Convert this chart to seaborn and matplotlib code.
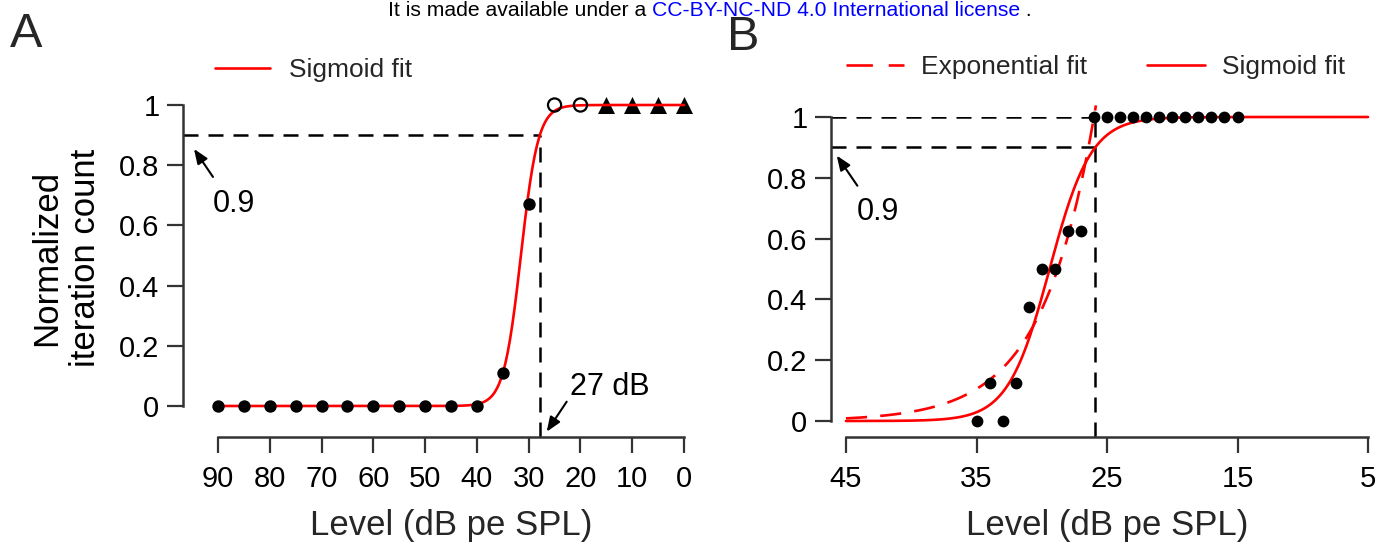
import numpy as np
import pandas as pd
import matplotlib
matplotlib.use("Agg")
import matplotlib.pyplot as plt
from matplotlib.lines import Line2D
import seaborn as sns

sns.set_style("ticks")
plt.rcParams['font.family'] = ['Liberation Sans', 'DejaVu Sans']

# ---------------- data ----------------
# Panel A
a_filled_level = [90, 85, 80, 75, 70, 65, 60, 55, 50, 45, 40, 35, 30]
a_filled_value = [0, 0, 0, 0, 0, 0, 0, 0, 0, 0, 0, 0.11, 0.67]
a_open_level = [25, 20]
a_open_value = [1.0, 1.0]
a_tri_level = [15, 10, 5, 0]
a_tri_value = [1.0, 1.0, 1.0, 1.0]
a_sig_mid = 31.5      # level at 0.5 of sigmoid fit
a_sig_slope = 0.6     # per dB
a_threshold = 27.8    # level where fit reaches 0.9
a_xticks = [90, 80, 70, 60, 50, 40, 30, 20, 10, 0]

# Panel B
b_level = [35, 34, 33, 32, 31, 30, 29, 28, 27,
           26, 25, 24, 23, 22, 21, 20, 19, 18, 17, 16, 15]
b_value = [0, 0.125, 0, 0.125, 0.375, 0.5, 0.5, 0.625, 0.625,
           1, 1, 1, 1, 1, 1, 1, 1, 1, 1, 1, 1]
b_sig_mid = 29.4
b_sig_slope = 0.628
b_exp_ref = 26.0      # level where exponential fit equals 1
b_exp_rate = 0.25     # per dB
b_exp_end = 25.85
b_threshold = 25.9
b_xticks = [45, 35, 25, 15, 5]

yticks = [0, 0.2, 0.4, 0.6, 0.8, 1]
yticklabels = ["0", "0.2", "0.4", "0.6", "0.8", "1"]

# fit curves
a_fit_level = np.linspace(90, 0, 400)
a_fit_value = 1 / (1 + np.exp(a_sig_slope * (a_fit_level - a_sig_mid)))
b_sig_level = np.linspace(45, 5, 400)
b_sig_value = 1 / (1 + np.exp(b_sig_slope * (b_sig_level - b_sig_mid)))
b_exp_level = np.linspace(45, b_exp_end, 300)
b_exp_value = np.exp(b_exp_rate * (b_exp_ref - b_exp_level))

# ---------------- figure ----------------
W, H = 1386, 547
fig = plt.figure(figsize=(W / 100, H / 100), dpi=100)

axA = fig.add_axes([183 / W, 1 - 437 / H, (684 - 183) / W, (437 - 105) / H])
axB = fig.add_axes([831 / W, 1 - 437 / H, (1368 - 831) / W, (437 - 117) / H])

a_xlim = (96.76, 0)
a_ylim = (-0.103, 1.0)
b_xlim = (46.15, 5)
b_ylim = (-0.0526, 1.0)

RED = "#FF0000"
SPINE = "#333333"
LW_FIT = 1.9

# Panel A
sns.lineplot(x=a_fit_level, y=a_fit_value, ax=axA, color=RED, lw=LW_FIT,
             sort=False, estimator=None, clip_on=False, zorder=2)
sns.scatterplot(x=a_filled_level, y=a_filled_value, ax=axA, color="black",
                s=80, linewidth=0, marker="o", clip_on=False, zorder=3)
sns.scatterplot(x=a_open_level, y=a_open_value, ax=axA, marker="o",
                s=90, linewidth=1.6, clip_on=False, zorder=3)
axA.collections[-1].set_facecolor("none")
axA.collections[-1].set_edgecolor("black")
sns.scatterplot(x=a_tri_level, y=a_tri_value, ax=axA, color="black",
                s=150, linewidth=0, marker="^", clip_on=False, zorder=1)

axA.hlines(0.9, a_xlim[0], a_threshold, colors="black", lw=1.8,
           linestyles=(0, (6, 4)), zorder=1)
axA.vlines(a_threshold, a_ylim[0], 0.9, colors="black", lw=1.8,
           linestyles=(0, (6, 4)), zorder=1)

# Panel B
sns.lineplot(x=b_sig_level, y=b_sig_value, ax=axB, color=RED, lw=LW_FIT,
             sort=False, estimator=None, clip_on=False, zorder=2)
sns.lineplot(x=b_exp_level, y=b_exp_value, ax=axB, color=RED, lw=LW_FIT,
             sort=False, estimator=None, clip_on=False, zorder=2)
axB.lines[-1].set_dashes((8, 5))
sns.scatterplot(x=b_level, y=b_value, ax=axB, color="black",
                s=72, linewidth=0, marker="o", clip_on=False, zorder=3)

axB.hlines([1.0, 0.9], b_xlim[0], b_threshold, colors="black", lw=1.8,
           linestyles=(0, (6, 4)), zorder=1)
axB.vlines(b_threshold, b_ylim[0], 1.0, colors="black", lw=1.8,
           linestyles=(0, (6, 4)), zorder=1)

for ax, xlim, ylim, xt in [(axA, a_xlim, a_ylim, a_xticks),
                           (axB, b_xlim, b_ylim, b_xticks)]:
    ax.set_xlim(*xlim)
    ax.set_ylim(*ylim)
    ax.set_xticks(xt)
    ax.set_xticklabels([str(v) for v in xt])
    ax.set_yticks(yticks)
    ax.set_yticklabels(yticklabels)
    for s in ["top", "right"]:
        ax.spines[s].set_visible(False)
    for s in ["left", "bottom"]:
        ax.spines[s].set_color(SPINE)
        ax.spines[s].set_linewidth(1.8)
    ax.spines["left"].set_bounds(0, 1)
    ax.spines["bottom"].set_bounds(min(xt), max(xt))
    ax.tick_params(axis="both", length=11.5, width=1.6, color=SPINE,
                   labelsize=21, labelcolor="black", direction="out")
    ax.tick_params(axis="x", pad=9)
    ax.tick_params(axis="y", pad=5.5)
    ax.set_xlabel("Level (dB pe SPL)", fontsize=25, color="#262626", labelpad=11)
    ax.set_facecolor("none")

axA.xaxis.label.set_x((451 - 183) / (684 - 183))
axB.xaxis.label.set_x((1107 - 831) / (1368 - 831))
axA.set_ylabel("Normalized\niteration count", fontsize=25, color="black",
               labelpad=12, linespacing=1.25)
axA.yaxis.label.set_y((437 - 258) / (437 - 105))
axB.set_ylabel("")

# annotations
arrow = dict(arrowstyle="-|>,head_length=0.55,head_width=0.22", color="black",
             lw=1.5, shrinkA=0, shrinkB=0, mutation_scale=16)
axA.annotate("", xy=(94.64, 0.854), xytext=(90.97, 0.761), arrowprops=arrow)
axA.text(90.97, 0.645, "0.9", fontsize=22, color="black", ha="left", va="baseline")
axA.annotate("", xy=(26.52, -0.0854), xytext=(22.66, 0.0143), arrowprops=arrow,
             annotation_clip=False)
axA.text(22.02, 0.0365, "27 dB", fontsize=22, color="black", ha="left", va="baseline")
axB.annotate("", xy=(45.71, 0.873), xytext=(44.13, 0.774), arrowprops=arrow)
axB.text(44.16, 0.661, "0.9", fontsize=22, color="black", ha="left", va="baseline")

# legends
hA = [Line2D([0], [0], color=RED, lw=LW_FIT)]
axA.legend(hA, ["Sigmoid fit"], loc="center left",
           bbox_to_anchor=(215 / W, 1 - 70 / H), bbox_transform=fig.transFigure,
           frameon=False, borderpad=0, borderaxespad=0, handlelength=2.08,
           handletextpad=0.72, fontsize=19, labelcolor="#262626")
hB = [Line2D([0], [0], color=RED, lw=LW_FIT, dashes=(10, 6)),
      Line2D([0], [0], color=RED, lw=LW_FIT)]
axB.legend(hB, ["Exponential fit", "Sigmoid fit"], loc="center left", ncol=2,
           bbox_to_anchor=(846 / W, 1 - 67 / H), bbox_transform=fig.transFigure,
           frameon=False, borderpad=0, borderaxespad=0, handlelength=2.2,
           handletextpad=0.65, columnspacing=2.25, fontsize=19,
           labelcolor="#262626")

# panel letters
fig.text(10 / W, 1 - 47 / H, "A", fontsize=35, ha="left", va="baseline")
fig.text(727 / W, 1 - 50 / H, "B", fontsize=35, ha="left", va="baseline")

# header line
renderer = fig.canvas.get_renderer()
parts = [("It is made available under a ", "black"),
         ("CC-BY-NC-ND 4.0 International license", "#0000FF"),
         (" .", "black")]
x = 388
for txt, col in parts:
    t = fig.text(x / W, 1 - 16 / H, txt, fontsize=15.2, color=col,
                 ha="left", va="baseline")
    bb = t.get_window_extent(renderer=renderer)
    x += bb.width

fig.savefig("out.png", dpi=100)
